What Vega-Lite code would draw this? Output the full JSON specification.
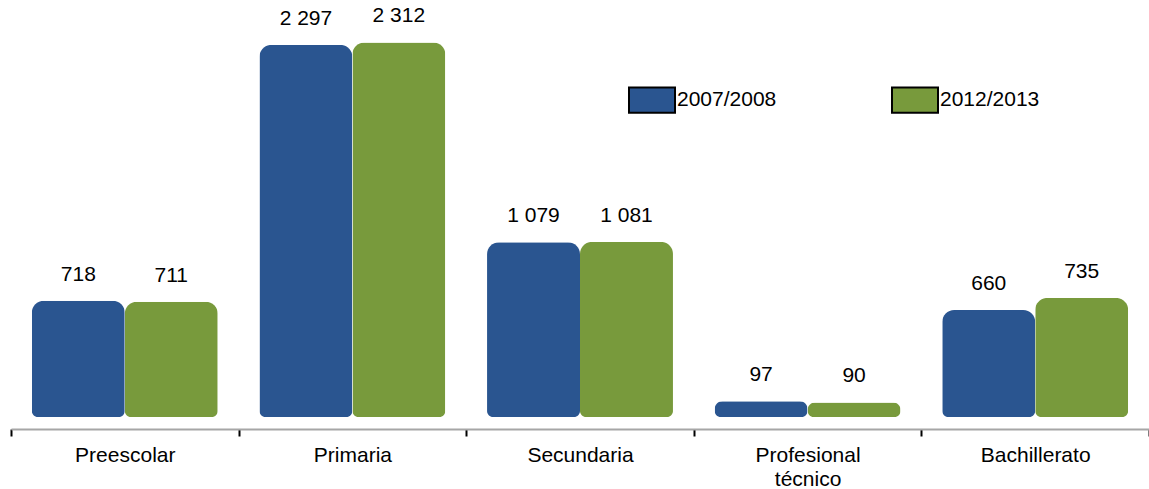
{
  "$schema": "https://vega.github.io/schema/vega-lite/v6.json",
  "width": 1138,
  "height": 405,
  "autosize": "none",
  "padding": {"left": 11, "top": 12, "right": 0, "bottom": 72},
  "config": {
    "view": {"stroke": null},
    "font": "Liberation Sans",
    "locale": {"number": {"decimal": ",", "thousands": " ", "grouping": [3], "currency": ["", ""]}}
  },
  "data": {
    "values": [
      {"nivel": "Preescolar", "periodo": "2007/2008", "valor": 718},
      {"nivel": "Preescolar", "periodo": "2012/2013", "valor": 711},
      {"nivel": "Primaria", "periodo": "2007/2008", "valor": 2297},
      {"nivel": "Primaria", "periodo": "2012/2013", "valor": 2312},
      {"nivel": "Secundaria", "periodo": "2007/2008", "valor": 1079},
      {"nivel": "Secundaria", "periodo": "2012/2013", "valor": 1081},
      {"nivel": "Profesional técnico", "periodo": "2007/2008", "valor": 97},
      {"nivel": "Profesional técnico", "periodo": "2012/2013", "valor": 90},
      {"nivel": "Bachillerato", "periodo": "2007/2008", "valor": 660},
      {"nivel": "Bachillerato", "periodo": "2012/2013", "valor": 735}
    ]
  },
  "encoding": {
    "x": {
      "field": "nivel",
      "type": "nominal",
      "sort": null,
      "title": null,
      "scale": {"paddingInner": 0, "paddingOuter": 0},
      "axis": {
        "offset": 12,
        "tickBand": "extent",
        "domainColor": "#a6a6a6",
        "domainWidth": 2,
        "tickColor": "#000000",
        "tickWidth": 2,
        "tickSize": 7,
        "labelAngle": 0,
        "labelFontSize": 21,
        "labelColor": "#000000",
        "labelPadding": 8,
        "labelLineHeight": 24,
        "labelExpr": "datum.label == 'Profesional técnico' ? ['Profesional', 'técnico'] : datum.label"
      }
    },
    "xOffset": {
      "field": "periodo",
      "type": "nominal",
      "scale": {"paddingInner": 0, "paddingOuter": 0.224}
    },
    "y": {
      "field": "valor",
      "type": "quantitative",
      "scale": {"domain": [0, 2500]},
      "axis": null
    }
  },
  "layer": [
    {
      "mark": {"type": "bar", "cornerRadiusTopLeft": 12, "cornerRadiusTopRight": 12, "cornerRadiusBottomLeft": 6, "cornerRadiusBottomRight": 6},
      "encoding": {
        "color": {
          "field": "periodo",
          "type": "nominal",
          "title": null,
          "scale": {"domain": ["2007/2008", "2012/2013"], "range": ["#2a5590", "#789a3c"]},
          "legend": {
            "orient": "none",
            "legendX": 617,
            "legendY": 64,
            "direction": "horizontal",
            "symbolType": "M-1,-0.55H1V0.55H-1Z",
            "symbolSize": 2116,
            "symbolStrokeColor": "#000000",
            "symbolStrokeWidth": 2,
            "symbolOpacity": 1,
            "labelFontSize": 21,
            "labelColor": "#000000",
            "labelOffset": 1,
            "columnPadding": 111
          }
        }
      }
    },
    {
      "mark": {"type": "text", "baseline": "bottom", "dy": -16, "fontSize": 21, "color": "#000000"},
      "encoding": {
        "text": {"field": "valor", "type": "quantitative", "format": ",d"}
      }
    }
  ]
}
